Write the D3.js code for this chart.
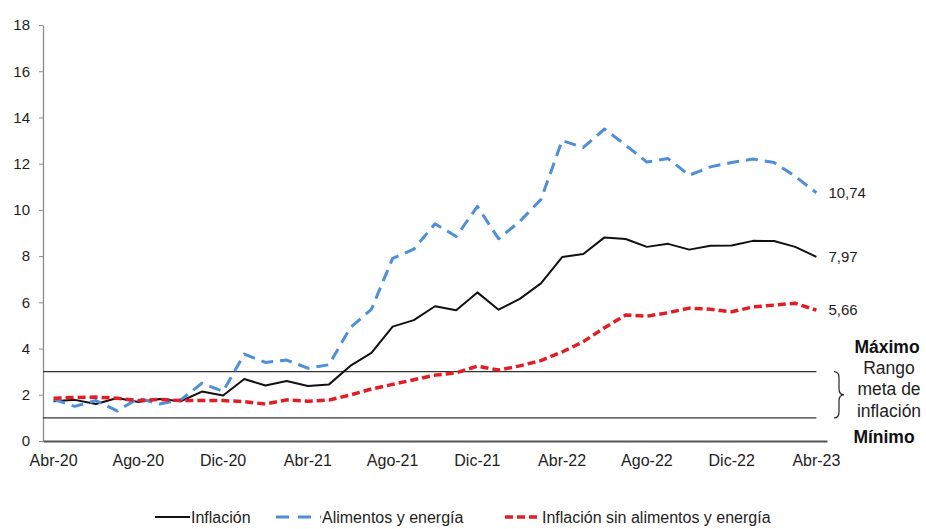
<!DOCTYPE html>
<html>
<head>
<meta charset="utf-8">
<script src="https://cdn.jsdelivr.net/npm/d3@7"></script>
<style>
  html, body { margin: 0; padding: 0; background: #fff; }
  svg { display: block; font-family: "Liberation Sans", Arial, sans-serif; }
</style>
</head>
<body>
<svg id="chart" width="926" height="529"></svg>
<script>
// Monthly 12-month inflation, Apr-2020 to Apr-2023 (%)
const months = [
  "Abr-20","May-20","Jun-20","Jul-20","Ago-20","Sep-20","Oct-20","Nov-20","Dic-20",
  "Ene-21","Feb-21","Mar-21","Abr-21","May-21","Jun-21","Jul-21","Ago-21","Sep-21","Oct-21","Nov-21","Dic-21",
  "Ene-22","Feb-22","Mar-22","Abr-22","May-22","Jun-22","Jul-22","Ago-22","Sep-22","Oct-22","Nov-22","Dic-22",
  "Ene-23","Feb-23","Mar-23","Abr-23"
];
const tickLabels = ["Abr-20","Ago-20","Dic-20","Abr-21","Ago-21","Dic-21","Abr-22","Ago-22","Dic-22","Abr-23"];
const yTicks = [0, 2, 4, 6, 8, 10, 12, 14, 16, 18];

const inflacion = [
  1.72, 1.78, 1.60, 1.86, 1.69, 1.82, 1.72, 2.14, 1.97,
  2.68, 2.40, 2.60, 2.38, 2.45, 3.25, 3.81, 4.95, 5.23, 5.83, 5.66, 6.43,
  5.68, 6.15, 6.82, 7.96, 8.09, 8.81, 8.74, 8.40, 8.53, 8.28, 8.45, 8.46,
  8.66, 8.65, 8.40, 7.97
];
const alimentosEnergia = [
  1.80, 1.50, 1.75, 1.30, 1.85, 1.60, 1.78, 2.50, 2.15,
  3.76, 3.40, 3.50, 3.15, 3.30, 4.90, 5.70, 7.90, 8.30, 9.40, 8.85, 10.15,
  8.75, 9.50, 10.45, 13.00, 12.70, 13.50, 12.80, 12.07, 12.22, 11.50, 11.86, 12.05,
  12.20, 12.05, 11.45, 10.74
];
const sinAlimentosEnergia = [
  1.85, 1.88, 1.90, 1.85, 1.75, 1.80, 1.75, 1.75, 1.75,
  1.70, 1.60, 1.78, 1.72, 1.77, 1.99, 2.25, 2.45, 2.65, 2.85, 2.95, 3.24,
  3.07, 3.25, 3.48, 3.85, 4.30, 4.90, 5.45, 5.40, 5.55, 5.75, 5.70, 5.59,
  5.80, 5.88, 5.96, 5.66
];
const targetMin = 1;
const targetMax = 3;

const series = [
  { name: "Inflación", values: inflacion, color: "#111111", width: 2, dash: null },
  { name: "Alimentos y energía", values: alimentosEnergia, color: "#4f8fd8", width: 3, dash: "12,7" },
  { name: "Inflación sin alimentos y energía", values: sinAlimentosEnergia, color: "#e11d25", width: 3.5, dash: "8,4" }
];

const svg = d3.select("#chart");
const textColor = "#1e1e1e";

const x = d3.scaleBand().domain(months).range([43, 827]).padding(0);
const cx = m => x(m) + x.bandwidth() / 2;
const y = d3.scaleLinear().domain([0, 18]).range([441, 25]);

// Y axis
const yAxis = svg.append("g")
  .attr("transform", "translate(43,0)")
  .call(d3.axisLeft(y).tickValues(yTicks).tickSize(4).tickSizeOuter(0).tickPadding(9));
yAxis.select(".domain").attr("stroke", "#8c8c8c").attr("stroke-width", 1.3);
yAxis.selectAll(".tick line").attr("stroke", "#8c8c8c");
yAxis.selectAll(".tick text")
  .attr("fill", textColor).style("font-size", "15px").style("font-family", "Liberation Sans, Arial, sans-serif");

// X axis (baseline at 0)
const xAxis = svg.append("g")
  .attr("transform", `translate(0,${y(0)})`)
  .call(d3.axisBottom(x).tickValues(tickLabels).tickSize(0).tickSizeOuter(0).tickPadding(14));
xAxis.select(".domain").attr("stroke", "#555").attr("stroke-width", 2);
xAxis.selectAll(".tick text")
  .attr("fill", textColor).style("font-size", "16px").style("font-family", "Liberation Sans, Arial, sans-serif");

// Target range lines
const xEnd = cx(months[months.length - 1]);
[targetMax, targetMin].forEach(v => {
  svg.append("line")
    .attr("x1", 43).attr("x2", xEnd)
    .attr("y1", y(v)).attr("y2", y(v))
    .attr("stroke", "#333").attr("stroke-width", 1.4);
});

// Series lines
const line = d3.line()
  .x((d, i) => cx(months[i]))
  .y(d => y(d));

series.forEach(s => {
  svg.append("path")
    .datum(s.values)
    .attr("d", line)
    .attr("fill", "none")
    .attr("stroke", s.color)
    .attr("stroke-width", s.width)
    .attr("stroke-dasharray", s.dash)
    .attr("stroke-linejoin", "round");
});

// Last-value labels
series.forEach(s => {
  const last = s.values[s.values.length - 1];
  svg.append("text")
    .attr("x", xEnd + 12)
    .attr("y", y(last))
    .attr("dy", "0.35em")
    .attr("fill", textColor)
    .style("font-size", "15px")
    .text(d3.format(".2f")(last).replace(".", ","));
});

// Target range annotation
const annX = 887;
svg.append("text").attr("x", annX).attr("y", y(targetMax) - 25).attr("dy", "0.35em")
  .attr("text-anchor", "middle").attr("font-weight", "bold").attr("fill", "#111")
  .style("font-size", "17.5px").text("Máximo");
["Rango", "meta de", "inflación"].forEach((t, i) => {
  svg.append("text").attr("x", annX + 2).attr("y", y(targetMax) - 4 + i * 21.5).attr("dy", "0.35em")
    .attr("text-anchor", "middle").attr("fill", textColor)
    .style("font-size", "17.5px").text(t);
});
svg.append("text").attr("x", annX - 3).attr("y", y(targetMin) + 19).attr("dy", "0.35em")
  .attr("text-anchor", "middle").attr("font-weight", "bold").attr("fill", "#111")
  .style("font-size", "17.5px").text("Mínimo");

// Curly brace spanning the target range
const bTop = y(targetMax), bBot = y(targetMin), bMid = (bTop + bBot) / 2, bx = 834;
svg.append("path")
  .attr("d", `M${bx},${bTop} q5,0 5,6 v${bMid - bTop - 12} q0,6 5,6 q-5,0 -5,6 v${bBot - bMid - 12} q0,6 -5,6`)
  .attr("fill", "none").attr("stroke", "#222").attr("stroke-width", 1.2);

// Legend
const legendY = 517;
const legendItems = [
  { s: series[0], x1: 155, x2: 190, dash: null, tx: 191 },
  { s: series[1], x1: 276, x2: 321, dash: "13,9", tx: 322 },
  { s: series[2], x1: 505, x2: 541, dash: "8,4", tx: 542 }
];
legendItems.forEach(it => {
  svg.append("line")
    .attr("x1", it.x1).attr("x2", it.x2).attr("y1", legendY).attr("y2", legendY)
    .attr("stroke", it.s.color).attr("stroke-width", it.s.width)
    .attr("stroke-dasharray", it.dash);
  svg.append("text")
    .attr("x", it.tx).attr("y", legendY).attr("dy", "0.35em")
    .attr("fill", textColor).style("font-size", "16px")
    .text(it.s.name);
});
</script>
</body>
</html>
